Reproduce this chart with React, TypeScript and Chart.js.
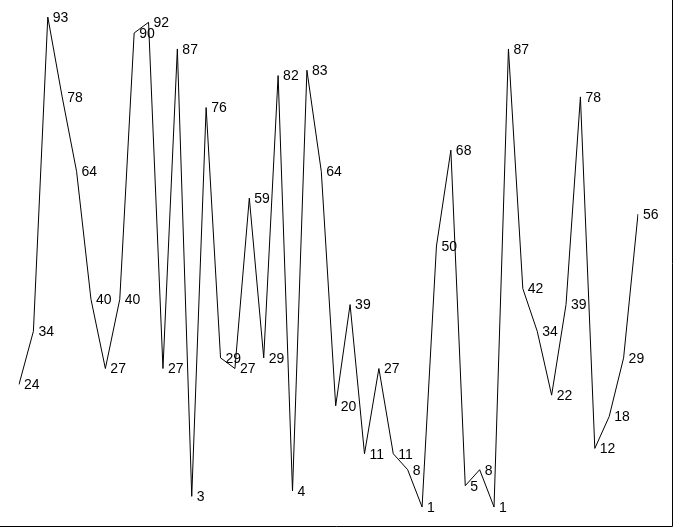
import React, { useEffect, useRef } from "react";
import { Chart, registerables } from "chart.js";

Chart.register(...registerables);

const categories: string[] = Array.from({ length: 44 }, (_, i) => String(i + 1));
const values: number[] = [
  24, 34, 93, 78, 64, 40, 27, 40, 90, 92, 27, 87, 3, 76, 29, 27, 59, 29, 82, 4, 83, 64,
  20, 39, 11, 27, 11, 8, 1, 50, 68, 5, 8, 1, 87, 42, 34, 22, 39, 78, 12, 18, 29, 56,
];
const yMin = 1;
const yMax = 93;

const labelPlugin = {
  id: "valueLabels",
  afterDatasetsDraw(chart: any) {
    const ctx = chart.ctx;
    const meta = chart.getDatasetMeta(0);
    ctx.save();
    ctx.font = '14px "Liberation Sans", Arial, sans-serif';
    ctx.fillStyle = "#000";
    ctx.textAlign = "left";
    ctx.textBaseline = "middle";
    meta.data.forEach((pt: any, i: number) => {
      ctx.fillText(String(values[i]), pt.x + 5, pt.y + 1);
    });
    ctx.restore();
  },
  afterDraw(chart: any) {
    const ctx = chart.ctx;
    const w = chart.width;
    const h = chart.height;
    ctx.save();
    ctx.strokeStyle = "#000";
    ctx.lineWidth = 1;
    ctx.beginPath();
    ctx.moveTo(0, h - 1.5);
    ctx.lineTo(w - 1.5, h - 1.5);
    ctx.lineTo(w - 1.5, 0);
    ctx.stroke();
    ctx.restore();
  },
};

export default function App() {
  const ref = useRef<HTMLCanvasElement | null>(null);
  useEffect(() => {
    if (!ref.current) return;
    const chart = new Chart(ref.current, {
      type: "line",
      data: {
        labels: categories,
        datasets: [
          {
            data: values,
            borderColor: "#000",
            borderWidth: 1,
            pointRadius: 0,
            tension: 0,
            fill: false,
          },
        ],
      },
      options: {
        animation: false,
        responsive: false,
        events: [],
        layout: { padding: { left: 19, right: 36, top: 17, bottom: 21 } },
        plugins: { legend: { display: false }, tooltip: { enabled: false } },
        scales: {
          x: { type: "category", offset: false, display: false },
          y: { type: "linear", min: yMin, max: yMax, display: false },
        },
      },
      plugins: [labelPlugin],
    });
    return () => chart.destroy();
  }, []);
  return (
    <div style={{ position: "fixed", left: 0, top: 0, width: 674, height: 528, background: "#fff" }}>
      <canvas ref={ref} width={674} height={528} style={{ display: "block", width: 674, height: 528 }} />
    </div>
  );
}
